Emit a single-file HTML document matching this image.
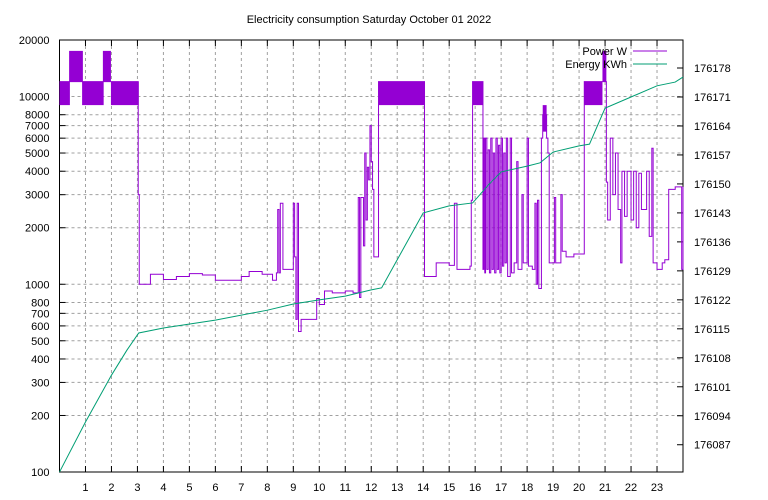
<!DOCTYPE html>
<html><head><meta charset="utf-8"><style>
body{margin:0;background:#fff}
svg{display:block;font-family:"Liberation Sans",sans-serif;font-size:11px}
</style></head><body>
<svg id="chart" width="768" height="500" xmlns="http://www.w3.org/2000/svg">
<text x="369" y="23" text-anchor="middle">Electricity consumption Saturday October 01 2022</text>
<g id="grid"></g>
<g id="axes"></g>
<g id="bands"></g>
<g id="lines"></g>
<g>
<text x="627" y="55" text-anchor="end">Power W</text>
<line x1="633" y1="51" x2="667" y2="51" stroke="#9400d3" stroke-width="1"/>
<text x="627" y="68" text-anchor="end">Energy KWh</text>
<line x1="633" y1="64" x2="667" y2="64" stroke="#009e73" stroke-width="1"/>
</g>
</svg>
<script>
const xTicks=[1,2,3,4,5,6,7,8,9,10,11,12,13,14,15,16,17,18,19,20,21,22,23];
const yTicks=[100,200,300,400,500,600,700,800,1000,2000,3000,4000,5000,6000,7000,8000,10000,20000];
const y2Ticks=[176087,176094,176101,176108,176115,176122,176129,176136,176143,176150,176157,176164,176171,176178];
const energyHours=[0,1,2,2.6,3.05,4,6,8,9,10,11,12,12.4,14,15,15.9,16,16.5,17,18,18.5,19,20,20.4,21,22,23,23.7,24];
const energyKWh=[176080.4,176092.5,176103.8,176109.9,176114.0,176115.2,176117.1,176119.5,176121.0,176122.0,176122.9,176124.4,176124.9,176143.0,176144.7,176145.4,176146.1,176149.7,176152.9,176154.3,176155.1,176157.7,176159.2,176159.6,176168.3,176171.0,176173.7,176174.6,176175.8];
const powerHours=[0,3.03,3.07,3.5,4.0,4.5,5.0,5.5,6.0,7.0,7.3,7.8,8.2,8.35,8.4,8.45,8.5,8.6,9.0,9.05,9.1,9.15,9.2,9.3,9.85,9.9,10.0,10.2,10.5,11.0,11.3,11.5,11.55,11.6,11.7,11.75,11.8,11.85,11.9,11.95,12.0,12.05,12.1,12.28,14.05,14.5,15.0,15.2,15.3,15.8,15.85,15.9,16.3,16.33,16.37,16.4,16.45,16.5,16.55,16.6,16.65,16.7,16.75,16.8,16.85,16.9,16.95,17.0,17.05,17.1,17.15,17.2,17.25,17.35,17.4,17.5,17.6,17.65,17.8,17.85,18.0,18.05,18.2,18.3,18.35,18.4,18.45,18.55,18.6,18.75,18.8,18.85,19.0,19.05,19.1,19.3,19.35,19.5,19.8,20.2,21.05,21.1,21.2,21.3,21.4,21.5,21.6,21.65,21.75,21.85,22.0,22.1,22.2,22.3,22.4,22.6,22.7,22.8,22.85,23.0,23.2,23.3,23.45,23.7,23.95,24];
const powerW=[12000,3000,1000,1130,1060,1100,1140,1120,1050,1100,1170,1130,1050,1150,2500,1150,2700,1200,2700,1400,650,2700,560,650,650,840,780,920,900,920,900,2900,850,2900,1600,5000,2200,4200,3600,7000,4500,3200,1400,12000,1100,1300,1260,2700,1200,1250,2800,12000,1200,6000,1150,6000,1200,5200,1150,6000,1200,5000,1150,6000,1200,5500,1150,6000,1250,5000,1300,6000,1100,6000,1150,1300,4500,1200,3000,1300,6000,1250,1200,2700,1000,2800,950,6000,8000,6000,5000,1300,1300,2900,1300,3000,1500,1400,1450,12000,3500,2200,6000,3000,5000,2500,1300,4000,2300,4000,2200,4000,2000,3900,2500,4000,1800,5300,1300,1200,1300,1350,3200,3300,1200,3300];
const bandStart=[0,0.37,0.87,1.67,1.98,12.28,15.9,18.6,20.2,20.9];
const bandEnd=[0.4,0.9,1.7,1.98,3.05,14.05,16.3,18.75,20.9,21.05];
const bandLow=[9000,12000,9000,12000,9000,9000,9000,6500,9000,12000];
const bandHigh=[12000,17500,12000,17500,12000,12000,12000,9000,12000,17500];

const NS="http://www.w3.org/2000/svg";
const L=59.5,R=683,T=40,B=472;
const X=h=>L+(R-L)*h/24;
const Y=w=>B-(Math.log10(w)-2)/(Math.log10(20000)-2)*(B-T);
const Y2=v=>68+(176178-v)*4.14;
function mk(tag,attrs,parent){const e=document.createElementNS(NS,tag);for(const k in attrs)e.setAttribute(k,attrs[k]);parent.appendChild(e);return e;}
const grid=document.getElementById('grid'),axes=document.getElementById('axes');
xTicks.forEach(h=>{
 const g=mk('line',{x1:X(h),x2:X(h),y1:T,y2:B,stroke:'#a0a0a0','stroke-dasharray':'3,3','stroke-width':1},grid);
 
 
 const t=mk('text',{x:X(h),y:B+19,'text-anchor':'middle'},axes);t.textContent=h;
 
 
 mk('line',{x1:X(h),x2:X(h),y1:B,y2:B-6,stroke:'#000'},axes);
 mk('line',{x1:X(h),x2:X(h),y1:T,y2:T+6,stroke:'#000'},axes);
});
yTicks.forEach(w=>{
 if(w!==100&&w!==20000){const g=mk('line',{x1:L,x2:R,y1:Y(w),y2:Y(w),stroke:'#a0a0a0','stroke-dasharray':'3,3','stroke-width':1},grid);
 
 }
 const t=mk('text',{x:L-10,y:Y(w)+4,'text-anchor':'end'},axes);t.textContent=w;
 
 
 mk('line',{x1:L,x2:L+6,y1:Y(w),y2:Y(w),stroke:'#000'},axes);
});
y2Ticks.forEach(v=>{
 const t=mk('text',{x:R+11,y:Y2(v)+4,'text-anchor':'start'},axes);t.textContent=v;
 
 
 mk('line',{x1:R-6,x2:R,y1:Y2(v),y2:Y2(v),stroke:'#000'},axes);
});
const frame=mk('rect',{x:L,y:T,width:R-L,height:B-T,fill:'none',stroke:'#000'},axes);


const bands=document.getElementById('bands');
bandStart.forEach((s,i)=>{
 const r=mk('rect',{x:X(s),y:Y(bandHigh[i]),width:X(bandEnd[i])-X(s),height:Y(bandLow[i])-Y(bandHigh[i]),fill:'#9400d3'},bands);
 
 
});
const lines=document.getElementById('lines');
let d='';
powerHours.forEach((h,i)=>{
 if(i===0)d+=`M${X(h)},${Y(powerW[i])}`;
 else d+=`H${X(h)}V${Y(powerW[i])}`;
});
const p=mk('path',{d:d,fill:'none',stroke:'#9400d3','stroke-width':1},lines);


const e=mk('polyline',{points:energyHours.map((h,i)=>X(h)+','+Y2(energyKWh[i])).join(' '),fill:'none',stroke:'#009e73','stroke-width':1},lines);


</script>
</body></html>
